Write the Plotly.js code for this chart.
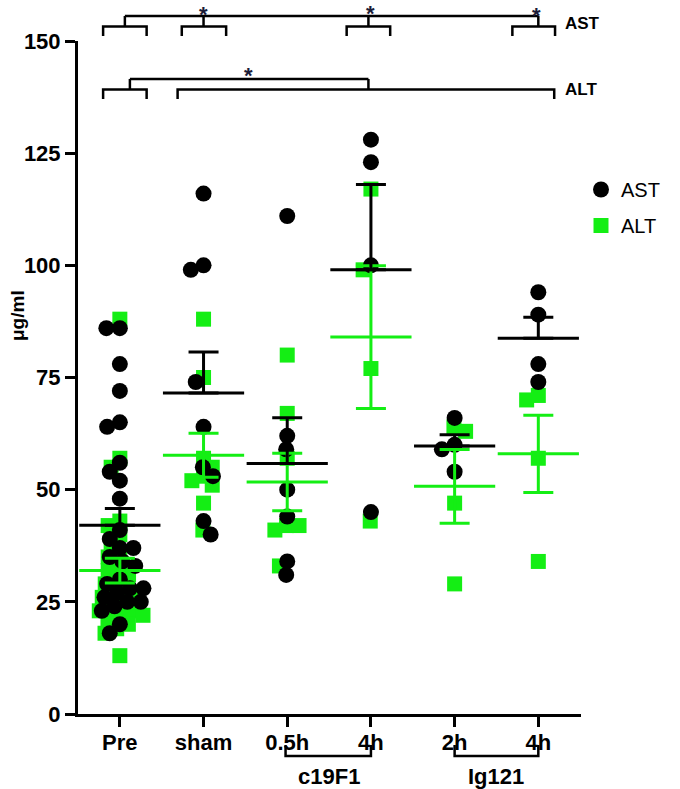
<!DOCTYPE html>
<html><head><meta charset="utf-8">
<script src="https://cdn.plot.ly/plotly-3.0.1.min.js"></script>
<style>html,body{margin:0;padding:0;background:#fff}</style>
</head><body><div id="chart" style="width:680px;height:789px"></div>
<script>
// ---------- data ----------
const categories = ['Pre', 'sham', '0.5h', '4h', '2h', '4h'];
const groupLabels = ['c19F1', 'Ig121'];
const seriesNames = ['AST', 'ALT'];

const astPre    = [86, 86, 78, 72, 65, 64, 56, 54, 52, 48, 41, 39, 37, 37, 35, 34, 33, 30, 29, 28, 28, 27, 26, 25, 25, 24, 23, 20, 18];
const astSham   = [116, 100, 99, 74, 64, 55, 53, 43, 40];
const astC19h05 = [111, 62, 59, 50, 44, 34, 31];
const astC19h4  = [128, 123, 100, 45];
const astIgh2   = [66, 60, 59, 54];
const astIgh4   = [94, 89, 78, 74];

const altPre    = [88, 57, 55, 43, 42, 40, 38, 36, 35, 33, 32, 31, 30, 29, 28, 27, 27, 26, 25, 24, 23, 23, 22, 22, 21, 20, 19, 18, 13];
const altSham   = [88, 75, 57, 55, 53, 52, 51, 47, 41];
const altC19h05 = [80, 67, 57, 42, 42, 41, 33];
const altC19h4  = [117, 99, 77, 43];
const altIgh2   = [64, 63, 47, 29];
const altIgh4   = [71, 70, 57, 34];

const yTicks = [0, 25, 50, 75, 100, 125, 150];

// ---------- layout geometry ----------
const W = 680, H = 789;
const M = {l: 78, r: 99, t: 41, b: 75};
const xRange = [-0.5, 5.51], yRange = [0, 150];
const plotW = W - M.l - M.r, plotH = H - M.t - M.b;
const pxX = plotW / (xRange[1] - xRange[0]);
const pxY = plotH / (yRange[1] - yRange[0]);
const pY = px => (H - M.b - px) / plotH;           // pixel row -> paper y

const GREEN = '#14ee14';
const INK = '#000000';

const astGroups = [astPre, astSham, astC19h05, astC19h4, astIgh2, astIgh4];
const altGroups = [altPre, altSham, altC19h05, altC19h4, altIgh2, altIgh4];

// ---------- deterministic beeswarm ----------
function swarm(ast, alt) {
  const pts = [];
  ast.forEach((v, i) => pts.push({v, s: 0, i}));
  alt.forEach((v, i) => pts.push({v, s: 1, i}));
  pts.sort((a, b) => b.v - a.v || a.s - b.s);
  const cross = pts.length > 20 ? 0 : 9;
  const placed = [];
  const D = (a, b) => (a === b ? (a === 0 ? 13.5 : 12.5) : cross);
  pts.forEach(p => {
    const y = p.v * pxY;
    const iv = [];
    placed.forEach(q => {
      const d = D(p.s, q.s), dy = Math.abs(q.y - y);
      if (dy < d) { const h = Math.sqrt(d * d - dy * dy); iv.push([q.x - h, q.x + h]); }
    });
    const cands = [0];
    iv.forEach(r => { cands.push(r[0], r[1]); });
    cands.sort((a, b) => Math.abs(a) - Math.abs(b) || a - b);
    let x = 0;
    for (const c of cands) {
      if (!iv.some(r => c > r[0] + 1e-6 && c < r[1] - 1e-6)) { x = c; break; }
    }
    p.x = x; p.y = y; placed.push(p);
  });
  const offA = new Array(ast.length), offL = new Array(alt.length);
  pts.forEach(p => { (p.s === 0 ? offA : offL)[p.i] = p.x / pxX; });
  return [offA, offL];
}

const mean = a => a.reduce((s, v) => s + v, 0) / a.length;
const sem = a => { const m = mean(a); return Math.sqrt(a.reduce((s, v) => s + (v - m) ** 2, 0) / (a.length - 1)) / Math.sqrt(a.length); };

const ax = [], ay = [], lx = [], ly = [];
astGroups.forEach((g, k) => {
  const [oa, ol] = swarm(g, altGroups[k]);
  g.forEach((v, i) => { ax.push(k + oa[i]); ay.push(v); });
  altGroups[k].forEach((v, i) => { lx.push(k + ol[i]); ly.push(v); });
});

const idx = categories.map((c, i) => i);
const traces = [
  {type: 'scatter', mode: 'markers', name: seriesNames[1], x: lx, y: ly, legendgroup: 'b', legendrank: 2,
   marker: {symbol: 'square', size: 15, color: GREEN}, cliponaxis: false, hoverinfo: 'y'},
  {type: 'scatter', mode: 'markers', name: seriesNames[0], x: ax, y: ay, legendgroup: 'a', legendrank: 1,
   marker: {symbol: 'circle', size: 16, color: INK}, cliponaxis: false, hoverinfo: 'y'},
  {type: 'scatter', mode: 'markers', x: idx, y: altGroups.map(mean), showlegend: false, cliponaxis: false,
   marker: {symbol: 'line-ew', size: 58, color: GREEN, line: {color: GREEN, width: 3}},
   error_y: {type: 'data', array: altGroups.map(sem), visible: true, color: GREEN, thickness: 3, width: 15}},
  {type: 'scatter', mode: 'markers', x: idx, y: astGroups.map(mean), showlegend: false, cliponaxis: false,
   marker: {symbol: 'line-ew', size: 58, color: INK, line: {color: INK, width: 3}},
   error_y: {type: 'data', symmetric: false, array: astGroups.map(sem), arrayminus: astGroups.map(() => 0),
             visible: true, color: INK, thickness: 3, width: 15}}
];

// ---------- significance brackets (category x, paper y) ----------
const LW = 2.5;
const line = (x0, y0, x1, y1) => ({type: 'line', xref: 'x', yref: 'paper', x0, y0, x1, y1, line: {color: INK, width: LW}});
const bracket = (x0, x1, yBar, yLeg) => ({type: 'path', xref: 'x', yref: 'paper',
  path: `M${x0},${yLeg} L${x0},${yBar} L${x1},${yBar} L${x1},${yLeg}`, line: {color: INK, width: LW}});

const astTop = pY(16), astBar = pY(26.5), astLeg = pY(36);
const altTop = pY(79), altBar = pY(89.5), altLeg = pY(99);
const shapes = [
  // AST row
  bracket(-0.2, 0.32, astBar, astLeg), line(0.06, astBar, 0.06, astTop),
  bracket(0.74, 1.27, astBar, astLeg), line(1.0, astBar, 1.0, astTop),
  bracket(2.71, 3.23, astBar, astLeg), line(2.97, astBar, 2.97, astTop),
  bracket(4.69, 5.2, astBar, astLeg), line(5.0, astBar, 5.0, astTop),
  line(0.06, astTop, 5.0, astTop),
  // ALT row
  bracket(-0.2, 0.32, altBar, altLeg), line(0.12, altBar, 0.12, altTop),
  bracket(0.69, 5.19, altBar, altLeg), line(2.97, altBar, 2.97, altTop),
  line(0.12, altTop, 2.97, altTop),
  // group brackets under tick labels
  bracket(1.98, 3.0, pY(756), pY(745)),
  bracket(4.0, 5.0, pY(756), pY(745))
];

const boldF = (size, color) => ({family: 'Liberation Sans, Arial, sans-serif', size, color: color || INK, weight: 'bold'});
const star = (x, ypx, anchor) => ({text: '*', x, xref: 'x', y: pY(ypx), yref: 'paper', showarrow: false, borderpad: 0,
  xanchor: 'center', yanchor: anchor, font: boldF(22, '#1b1b38')});
const annotations = [
  star(1.0, 1, 'top'), star(2.99, 0.5, 'top'), star(4.98, 2, 'top'), star(1.54, 75, 'middle'),
  {text: 'AST', x: (563 - M.l) / plotW, xref: 'paper', y: pY(23), yref: 'paper', xanchor: 'left', yanchor: 'middle', showarrow: false, font: boldF(17)},
  {text: 'ALT', x: (563 - M.l) / plotW, xref: 'paper', y: pY(90), yref: 'paper', xanchor: 'left', yanchor: 'middle', showarrow: false, font: boldF(17)},
  {text: groupLabels[0], x: 2.5, xref: 'x', y: pY(776), yref: 'paper', xanchor: 'center', yanchor: 'middle', showarrow: false, font: boldF(22)},
  {text: groupLabels[1], x: 4.5, xref: 'x', y: pY(776), yref: 'paper', xanchor: 'center', yanchor: 'middle', showarrow: false, font: boldF(22)},
  {text: 'μg/ml', x: (17 - M.l) / plotW, xref: 'paper', y: pY(316), yref: 'paper', xanchor: 'center', yanchor: 'middle', textangle: -90, showarrow: false, font: boldF(19)}
];

const layout = {
  width: W, height: H, margin: M, paper_bgcolor: '#fff', plot_bgcolor: '#fff', showlegend: true,
  font: {family: 'Liberation Sans, Arial, sans-serif', color: INK},
  xaxis: {range: xRange, tickvals: idx, ticktext: categories, showgrid: false, zeroline: false,
          showline: true, linecolor: INK, linewidth: 3, ticks: 'outside', ticklen: 10, tickwidth: 3, tickcolor: INK,
          tickfont: boldF(22), ticklabelstandoff: -3, fixedrange: true},
  yaxis: {range: yRange, tickvals: yTicks, showgrid: false, zeroline: false,
          showline: true, linecolor: INK, linewidth: 3, ticks: 'outside', ticklen: 10, tickwidth: 3, tickcolor: INK,
          tickfont: boldF(22), fixedrange: true},
  legend: {x: 1.0, xanchor: 'left', y: pY(170), yanchor: 'top', traceorder: 'grouped', tracegroupgap: 7,
           font: {family: 'Liberation Sans, Arial, sans-serif', size: 20, color: INK}, bgcolor: 'rgba(0,0,0,0)'},
  shapes, annotations
};

Plotly.newPlot('chart', traces, layout, {displayModeBar: false, staticPlot: true});
</script></body></html>
